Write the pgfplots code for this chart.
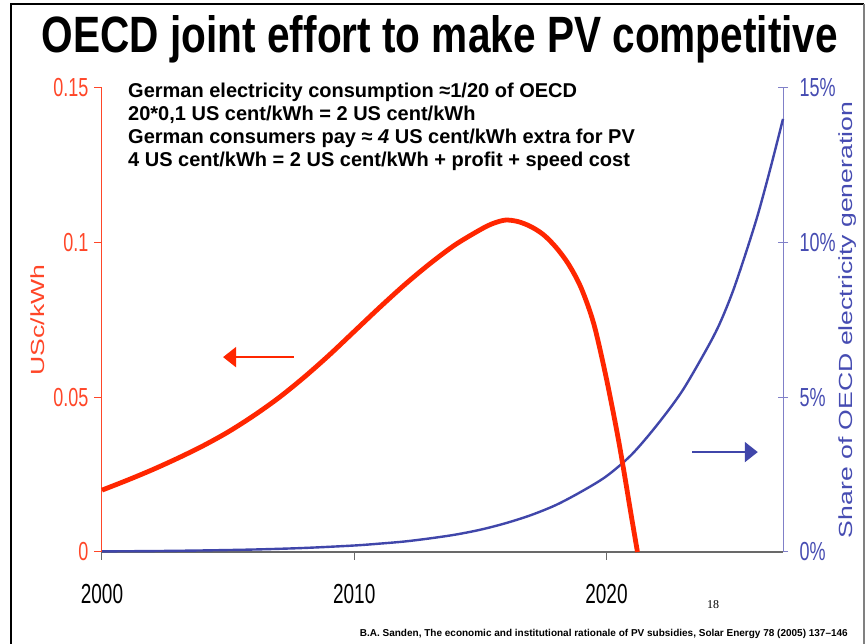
\documentclass[border=0pt]{standalone}
\usepackage{pgfplots}
\pgfplotsset{compat=1.18}
\usetikzlibrary{arrows.meta}
\usepackage{fontspec}
\setmainfont{Liberation Sans}
\newfontfamily\seriffont{Liberation Serif}

\definecolor{redline}{RGB}{255,38,0}
\definecolor{redaxis}{RGB}{255,70,40}
\definecolor{blueline}{RGB}{64,70,170}
\definecolor{blueaxis}{RGB}{128,128,200}
\definecolor{bluetext}{RGB}{70,76,178}
\definecolor{axgray}{RGB}{105,105,105}

% chart text is stretched vertically in the original
\newcommand{\vs}[1]{\scalebox{1}[1.45]{#1}}
\newcommand{\hs}[1]{\scalebox{1.4}[1]{#1}}
\newcommand{\fsz}[1]{\fontsize{#1}{#1}\selectfont}

\begin{document}
\begin{tikzpicture}[x=1pt,y=1pt]
\path[use as bounding box] (0,0) rectangle (868,643);
\fill[white] (0,0) rectangle (868,643);
% slide frame
\draw[black, line width=1.2pt] (11,-1) -- (11,639) -- (864,639);
\draw[gray, line width=1.2pt] (864,639) -- (864,-1);

\node[anchor=base, inner sep=0] at (440,590)
  {\resizebox{796pt}{37pt}{\bfseries OECD joint effort to make PV competitive}};

% right axis: share of OECD generation
\begin{axis}[
  at={(102pt,91pt)}, anchor=south west,
  scale only axis, width=681pt, height=464pt,
  xmin=2000, xmax=2027, ymin=0, ymax=15,
  axis x line*=bottom, axis y line*=right,
  x axis line style={-, draw=axgray, line width=1.6pt},
  y axis line style={-, draw=blueaxis, line width=1pt},
  xtick=\empty,
  ytick={0,5,10,15},
  yticklabels={\vs{0\%},\vs{5\%},\vs{10\%},\vs{15\%}},
  tick align=center, major tick length=10pt,
  ytick style={draw=blueaxis, line width=1pt},
  yticklabel style={font=\fsz{18}, text=bluetext, xshift=8pt},
  ylabel={\hs{Share of OECD electricity generation}},
  ylabel style={at={(axis description cs:1.095,0.5)}, anchor=center,
    font=\fsz{19}, text=bluetext},
  clip=false,
]
\addplot[blueline, line width=2.4pt, smooth] coordinates {
  (2000,0.02)(2002,0.03)(2004,0.05)(2006,0.08)(2008,0.13)(2010,0.21)
  (2011,0.27)(2012,0.34)(2013,0.44)(2014,0.56)(2015,0.72)(2016,0.93)
  (2017,1.19)(2018,1.52)(2019,1.95)(2020,2.45)(2021,3.15)(2022,4.1)
  (2023,5.2)(2024,6.6)(2024.5,7.4)(2025,8.4)(2025.5,9.6)(2026,10.9)
  (2026.5,12.4)(2027,14.0)
};
\draw[blueline, line width=2pt, -{Triangle[length=13pt,width=20pt]}]
  (axis cs:2023.4,3.23) -- (axis cs:2026.0,3.23);
\end{axis}

% left axis: USc/kWh
\begin{axis}[
  at={(102pt,91pt)}, anchor=south west,
  scale only axis, width=681pt, height=464pt,
  xmin=2000, xmax=2027, ymin=0, ymax=0.15,
  axis x line*=bottom, axis y line*=left,
  x axis line style={draw=none},
  y axis line style={-, draw=redaxis, line width=1pt},
  xtick={2000,2010,2020},
  xticklabels={\vs{2000},\vs{2010},\vs{2020}},
  ytick={0,0.05,0.1,0.15},
  yticklabels={\vs{0},\vs{0.05},\vs{0.1},\vs{0.15}},
  tick align=outside, major tick length=8pt,
  xtick style={draw=axgray, line width=1pt},
  ytick style={draw=redaxis, line width=1pt},
  xticklabel style={font=\fsz{19}, text=black, yshift=-21pt},
  yticklabel style={font=\fsz{18}, text=redaxis, xshift=-2pt},
  ylabel={\hs{USc/kWh}},
  ylabel style={at={(axis description cs:-0.095,0.5)}, anchor=center,
    font=\fsz{19}, text=redaxis},
  clip=false,
]
\addplot[redline, line width=4.8pt, smooth] coordinates {
  (2000,0.0200)(2001,0.0232)(2002,0.0266)(2003,0.0303)(2004,0.0343)
  (2005,0.0388)(2006,0.0440)(2007,0.0498)(2008,0.0564)(2009,0.0636)
  (2010,0.0713)(2011,0.0790)(2012,0.0864)(2013,0.0932)(2014,0.0993)
  (2015,0.1042)(2015.5,0.1062)(2016,0.1073)(2016.5,0.1068)(2017,0.1052)
  (2017.5,0.1026)(2018,0.0985)(2018.5,0.0930)(2019,0.0853)(2019.5,0.0737)
  (2020,0.0560)(2020.5,0.0352)(2021,0.0110)(2021.23,0)
};
\draw[redline, line width=2pt, -{Triangle[length=13pt,width=20pt]}]
  (axis cs:2007.6,0.063) -- (axis cs:2004.8,0.063);
\end{axis}

% annotation
\begin{scope}[every node/.style={anchor=base west, inner sep=0, font=\bfseries\fsz{20}}]
\node at (128,545) {German electricity consumption ≈1/20 of OECD};
\node at (128,522) {20*0,1 US cent/kWh = 2 US cent/kWh};
\node at (128,499) {German consumers pay ≈ \textit{4} US cent/kWh extra for PV};
\node at (128,476) {4 US cent/kWh = 2 US cent/kWh + profit + speed cost};
\end{scope}

\node[font=\seriffont\fsz{12}] at (713,38) {18};
\node[anchor=base east, inner sep=0, font=\bfseries\fsz{10}] at (848,7)
  {B.A. Sanden, The economic and institutional rationale of PV subsidies, Solar Energy 78 (2005) 137--146};
\end{tikzpicture}
\end{document}
